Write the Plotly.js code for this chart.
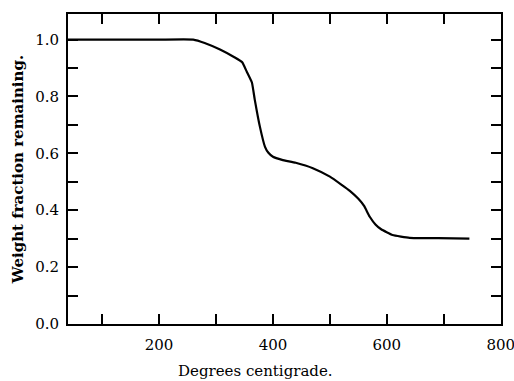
<!DOCTYPE html>
<html>
<head>
<meta charset="utf-8">
<script src="https://cdn.plot.ly/plotly-3.0.1.min.js"></script>
<style>html,body{margin:0;padding:0;background:#fff;}#chart{width:514px;height:381px;}</style>
</head>
<body>
<div id="chart"></div>
<script>
var temperature = [40, 100, 150, 200, 260, 280, 307, 333, 346, 354, 363, 368, 377, 386, 392, 400, 416, 440, 470, 500, 520, 535, 550, 560, 570, 580, 590, 610, 640, 690, 745];
var weightFraction = [1.0, 1.0, 1.0, 1.0, 1.0, 0.988, 0.965, 0.937, 0.92, 0.887, 0.849, 0.789, 0.694, 0.623, 0.602, 0.588, 0.577, 0.567, 0.548, 0.518, 0.49, 0.468, 0.44, 0.415, 0.377, 0.35, 0.333, 0.313, 0.303, 0.302, 0.30];
var xTitle = "Degrees centigrade.";
var yTitle = "Weight fraction remaining.";

var serif = "DejaVu Serif, Liberation Serif, serif";

var trace = {
  x: temperature,
  y: weightFraction,
  type: "scatter",
  mode: "lines",
  line: {color: "#000", width: 2.2, shape: "spline", smoothing: 0.4},
  hoverinfo: "skip"
};

var layout = {
  width: 514,
  height: 381,
  margin: {l: 68, r: 13, t: 14, b: 57},
  paper_bgcolor: "#fff",
  plot_bgcolor: "#fff",
  showlegend: false,
  font: {family: serif, color: "#000", size: 15},
  xaxis: {
    range: [40, 800.5],
    tickmode: "linear",
    tick0: 0,
    dtick: 200,
    ticks: "inside",
    ticklen: 10,
    tickwidth: 2,
    tickcolor: "#000",
    showline: true,
    linewidth: 2,
    linecolor: "#000",
    mirror: "ticks",
    showgrid: false,
    zeroline: false,
    minor: {dtick: 100, tick0: 0, ticks: "inside", ticklen: 10, tickwidth: 2, tickcolor: "#000", showgrid: false},
    tickfont: {family: serif, size: 15, color: "#000"},
    ticklabelstandoff: 6,
    ticklabeloverflow: "allow"
  },
  yaxis: {
    range: [0, 1.09],
    tickmode: "linear",
    tick0: 0,
    dtick: 0.2,
    tickformat: ".1f",
    ticks: "inside",
    ticklen: 10,
    tickwidth: 2,
    tickcolor: "#000",
    showline: true,
    linewidth: 2,
    linecolor: "#000",
    mirror: "ticks",
    showgrid: false,
    zeroline: false,
    minor: {dtick: 0.1, tick0: 0, ticks: "inside", ticklen: 10, tickwidth: 2, tickcolor: "#000", showgrid: false},
    tickfont: {family: serif, size: 15, color: "#000"},
    ticklabelstandoff: 4,
    title: {text: yTitle, font: {family: serif, size: 15, color: "#000", weight: "bold"}, standoff: 8}
  },
  annotations: [{
    text: xTitle,
    xref: "paper", yref: "paper",
    x: (255 - 68) / (501 - 68), y: -0.115,
    xanchor: "center", yanchor: "top",
    showarrow: false,
    font: {family: serif, size: 15, color: "#000"}
  }]
};

Plotly.newPlot("chart", [trace], layout, {displayModeBar: false, staticPlot: true});
</script>
</body>
</html>
